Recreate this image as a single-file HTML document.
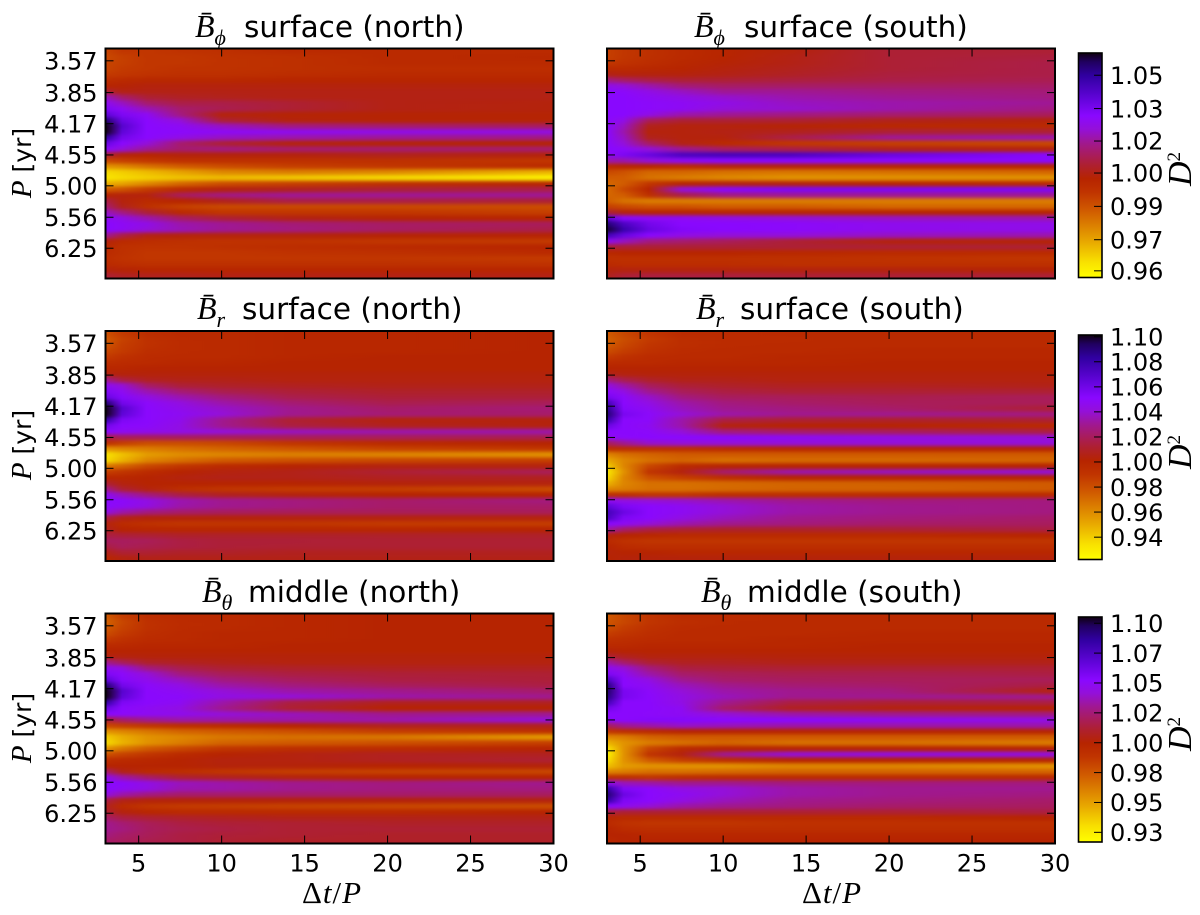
<!DOCTYPE html>
<html>
<head>
<meta charset="utf-8">
<title>D-squared phase dispersion panels</title>
<style>
html,body{margin:0;padding:0;background:#fff;width:1200px;height:915px;overflow:hidden}
svg{display:block}
text{fill:#000;font-family:"DejaVu Sans","Liberation Sans",sans-serif}
.tick{font-size:24px}
.title{font-size:29.5px}
.math{font-family:"Liberation Serif","DejaVu Serif",serif;font-style:italic}
.axis-label{font-size:25px}
.dt-label{font-size:31px;font-family:"Liberation Serif",serif;letter-spacing:1px}
</style>
</head>
<body>
<svg id="figure" width="1200" height="915" viewBox="0 0 1200 915" xmlns="http://www.w3.org/2000/svg">
<defs>
<filter id="vblur" filterUnits="userSpaceOnUse" x="0" y="0" width="1200" height="915" color-interpolation-filters="sRGB"><feGaussianBlur stdDeviation="0 1.8"/></filter>
</defs>

<text class="title" y="37" xml:space="preserve"><tspan class="math" x="195" font-size="32">B&#772;</tspan><tspan class="math" font-size="22" dy="8">ϕ</tspan><tspan x="244" dy="-8">surface (north)</tspan></text>
<text class="title" y="37" xml:space="preserve"><tspan class="math" x="694" font-size="32">B&#772;</tspan><tspan class="math" font-size="22" dy="8">ϕ</tspan><tspan x="744" dy="-8">surface (south)</tspan></text>
<text class="title" y="319" xml:space="preserve"><tspan class="math" x="197" font-size="32">B&#772;</tspan><tspan class="math" font-size="22" dy="8">r</tspan><tspan x="242" dy="-8">surface (north)</tspan></text>
<text class="title" y="319" xml:space="preserve"><tspan class="math" x="696" font-size="32">B&#772;</tspan><tspan class="math" font-size="22" dy="8">r</tspan><tspan x="740" dy="-8">surface (south)</tspan></text>
<text class="title" y="602" xml:space="preserve"><tspan class="math" x="202" font-size="32">B&#772;</tspan><tspan class="math" font-size="22" dy="8">θ</tspan><tspan x="248" dy="-8">middle (north)</tspan></text>
<text class="title" y="602" xml:space="preserve"><tspan class="math" x="701" font-size="32">B&#772;</tspan><tspan class="math" font-size="22" dy="8">θ</tspan><tspan x="747" dy="-8">middle (south)</tspan></text>

<text class="axis-label" text-anchor="middle" transform="translate(31,163) rotate(-90)"><tspan class="math" font-size="29">P</tspan> [yr]</text>
<text class="axis-label" text-anchor="middle" transform="translate(31,445) rotate(-90)"><tspan class="math" font-size="29">P</tspan> [yr]</text>
<text class="axis-label" text-anchor="middle" transform="translate(31,728) rotate(-90)"><tspan class="math" font-size="29">P</tspan> [yr]</text>

<text class="dt-label" text-anchor="middle" x="332" y="903">Δ<tspan class="math">t</tspan>/<tspan class="math">P</tspan></text>
<text class="dt-label" text-anchor="middle" x="832" y="903">Δ<tspan class="math">t</tspan>/<tspan class="math">P</tspan></text>

<text class="axis-label" text-anchor="middle" transform="translate(1191,169) rotate(-90)"><tspan class="math" font-size="34">D</tspan><tspan font-size="19" dy="-11" style="font-family:'Liberation Serif',serif">2</tspan></text>
<text class="axis-label" text-anchor="middle" transform="translate(1191,452) rotate(-90)"><tspan class="math" font-size="34">D</tspan><tspan font-size="19" dy="-11" style="font-family:'Liberation Serif',serif">2</tspan></text>
<text class="axis-label" text-anchor="middle" transform="translate(1191,734) rotate(-90)"><tspan class="math" font-size="34">D</tspan><tspan font-size="19" dy="-11" style="font-family:'Liberation Serif',serif">2</tspan></text>
</svg>

<script>
// Column positions of the sampled lag (Δt/P) and rows of sampled frequency (1/P)
const lagColumns = [3,4,5.5,7.5,10,14,20,30];
const freqRows = [.2862,.2825,.2788,.2751,.2714,.2677,.2641,.2604,.2567,.2530,.2493,.2456,.2419,.2383,.2346,.2309,.2272,.2235,.2198,.2161,.2124,.2088,.2051,.2014,.1977,.1940,.1903,.1866,.1830,.1793,.1756,.1719,.1682,.1645,.1608,.1571,.1535,.1498,.1461,.1424];
const periodTickLabels = ['3.57','3.85','4.17','4.55','5.00','5.56','6.25'];
const lagTicks = [5,10,15,20,25,30];

const bphiNorth = [
[.992,.995,.995,.996,.997,.999,.999,.999],
[.991,.993,.995,.995,.996,.997,.999,1.000],
[.992,.993,.995,.995,.996,.997,.999,.999],
[.992,.994,.995,.996,.996,.997,.998,.998],
[.994,.995,.996,.997,.997,.998,.999,.999],
[.998,.999,1.000,1.000,1.000,1.001,1.001,1.001],
[1.001,1.002,1.003,1.003,1.003,1.003,1.003,1.003],
[1.008,1.004,1.004,1.004,1.004,1.004,1.004,1.004],
[1.022,1.014,1.008,1.006,1.005,1.004,1.004,1.004],
[1.028,1.022,1.014,1.010,1.010,1.008,1.004,1.003],
[1.032,1.028,1.021,1.014,1.011,1.008,1.004,1.003],
[1.038,1.032,1.028,1.016,1.003,1.002,1.002,1.002],
[1.052,1.036,1.030,1.024,1.008,1.003,1.002,1.002],
[1.058,1.040,1.030,1.028,1.022,1.016,1.014,1.012],
[1.058,1.038,1.030,1.029,1.028,1.027,1.026,1.025],
[1.048,1.034,1.030,1.026,1.022,1.020,1.018,1.016],
[1.036,1.030,1.024,1.014,1.008,1.003,1.002,1.002],
[1.030,1.024,1.018,1.014,1.016,1.014,1.014,1.014],
[1.008,1.003,1.001,1.003,1.003,1.003,1.005,1.003],
[.991,.993,.995,.997,.997,.997,.997,.995],
[.977,.979,.983,.987,.990,.993,.995,.999],
[.965,.967,.970,.974,.979,.981,.979,.971],
[.963,.965,.967,.969,.970,.968,.965,.960],
[.972,.974,.979,.985,.990,.993,.997,1.001],
[.987,.989,.994,.999,1.003,1.005,1.008,1.010],
[1.001,1.003,1.003,1.012,1.016,1.018,1.018,1.018],
[1.010,1.003,.999,1.001,1.005,1.010,1.010,1.008],
[1.014,1.005,.997,.993,.991,.991,.991,.990],
[1.022,1.016,1.008,.999,.995,.995,.995,.993],
[1.028,1.026,1.020,1.013,1.008,1.004,1.002,1.001],
[1.030,1.028,1.026,1.020,1.018,1.015,1.013,1.012],
[1.030,1.028,1.024,1.021,1.018,1.016,1.013,1.010],
[1.018,1.010,1.004,1.003,1.003,1.003,1.002,1.002],
[1.003,.999,.998,.997,.996,.996,.995,.994],
[1.000,.997,.996,.996,.997,.998,.999,1.001],
[.999,.997,.995,.995,.995,.996,.997,.999],
[.998,.996,.995,.995,.995,.995,.995,.994],
[.999,.998,.997,.997,.997,.997,.997,.996],
[1.003,1.002,1.001,1.001,1.001,1.001,1.001,1.001],
[1.008,1.006,1.005,1.005,1.004,1.004,1.004,1.004]];

const bphiSouth = [
[.993,.995,.997,.999,1.001,1.003,1.008,1.008],
[.993,.995,.997,.999,1.001,1.004,1.008,1.009],
[.995,.996,.998,1.000,1.002,1.004,1.008,1.010],
[.999,.999,1.000,1.001,1.003,1.005,1.008,1.010],
[1.004,1.003,1.003,1.003,1.004,1.006,1.009,1.010],
[1.016,1.013,1.010,1.008,1.008,1.009,1.010,1.011],
[1.026,1.024,1.020,1.015,1.013,1.013,1.013,1.013],
[1.030,1.029,1.026,1.022,1.018,1.018,1.016,1.015],
[1.030,1.030,1.028,1.026,1.023,1.020,1.018,1.016],
[1.030,1.030,1.029,1.028,1.026,1.022,1.020,1.018],
[1.030,1.030,1.029,1.028,1.024,1.023,1.020,1.016],
[1.030,1.030,1.026,1.020,1.018,1.016,1.014,1.012],
[1.030,1.026,1.012,1.008,1.008,1.008,1.005,1.003],
[1.030,1.022,1.005,1.003,1.003,1.002,1.000,.999],
[1.030,1.020,1.003,1.003,1.004,1.005,1.008,1.008],
[1.030,1.022,1.005,1.003,1.003,1.010,1.018,1.020],
[1.030,1.024,1.013,1.004,.999,.995,.993,.991],
[1.030,1.029,1.024,1.018,1.013,1.010,1.005,1.003],
[1.028,1.032,1.036,1.042,1.043,1.042,1.036,1.030],
[1.020,1.020,1.024,1.028,1.030,1.030,1.030,1.030],
[.999,1.001,1.001,.999,1.003,1.003,1.002,1.001],
[.991,.989,.985,.985,.983,.982,.983,.985],
[.987,.987,.983,.981,.979,.977,.977,.977],
[.985,.987,.995,1.001,1.003,1.003,1.001,.999],
[.984,.991,1.001,1.024,1.030,1.032,1.032,1.032],
[.985,.987,.997,1.010,1.016,1.018,1.018,1.018],
[.987,.983,.981,.981,.981,.981,.981,.981],
[.993,.991,.989,.989,.987,.987,.985,.985],
[1.008,1.003,1.001,1.001,1.001,1.001,1.001,1.001],
[1.038,1.030,1.028,1.028,1.026,1.024,1.022,1.020],
[1.052,1.042,1.034,1.030,1.030,1.029,1.027,1.026],
[1.056,1.046,1.036,1.031,1.030,1.029,1.027,1.026],
[1.044,1.036,1.030,1.026,1.024,1.024,1.022,1.020],
[1.028,1.022,1.016,1.014,1.012,1.008,1.003,1.002],
[1.008,1.008,1.008,1.008,1.008,1.008,1.008,1.008],
[1.000,1.001,1.001,1.001,1.001,1.000,.999,.999],
[.997,.997,.997,.997,.997,.997,.996,.995],
[.999,.998,.998,.998,.998,.997,.997,.997],
[1.003,1.003,1.003,1.003,1.003,1.003,1.003,1.002],
[1.005,1.008,1.009,1.009,1.009,1.008,1.008,1.008]];

const brNorth = [
[.980,.988,.994,.997,.997,.999,.999,1.001],
[.976,.985,.992,.996,.997,.999,.999,1.001],
[.978,.987,.992,.996,.997,.999,.999,1.001],
[.983,.988,.994,.996,.997,.999,.999,1.001],
[.988,.992,.996,.997,.997,.999,1.001,1.001],
[.994,.996,.997,.999,.999,1.001,1.001,1.001],
[.999,.999,1.001,1.001,1.001,1.001,1.001,1.001],
[1.004,1.003,1.003,1.003,1.003,1.003,1.003,1.003],
[1.029,1.015,1.008,1.006,1.006,1.004,1.004,1.004],
[1.047,1.040,1.022,1.013,1.010,1.008,1.006,1.006],
[1.054,1.047,1.034,1.024,1.017,1.013,1.010,1.010],
[1.061,1.052,1.043,1.034,1.026,1.017,1.013,1.013],
[1.090,1.058,1.049,1.042,1.033,1.024,1.017,1.019],
[1.100,1.068,1.050,1.045,1.038,1.029,1.022,1.024],
[1.100,1.065,1.050,1.047,1.040,1.029,1.024,1.022],
[1.080,1.054,1.050,1.045,1.029,1.012,1.004,1.003],
[1.058,1.050,1.049,1.043,1.029,1.015,1.008,1.004],
[1.049,1.047,1.045,1.043,1.040,1.036,1.033,1.033],
[1.015,1.019,1.019,1.020,1.019,1.019,1.019,1.017],
[.994,.987,.981,.981,.983,.990,.997,1.001],
[.958,.962,.965,.969,.973,.978,.985,.990],
[.934,.944,.955,.960,.962,.964,.962,.958],
[.937,.948,.962,.969,.976,.980,.983,.987],
[.967,.973,.983,.990,.997,1.001,1.004,1.004],
[.987,.990,.996,1.001,1.004,1.006,1.012,1.019],
[.999,.999,1.001,1.004,1.006,1.006,1.008,1.008],
[1.012,1.004,1.001,1.001,1.001,1.001,1.003,1.004],
[1.029,1.012,1.004,.994,.990,.988,.987,.981],
[1.047,1.036,1.026,1.015,1.008,1.004,1.001,1.001],
[1.050,1.049,1.043,1.034,1.029,1.026,1.022,1.026],
[1.049,1.047,1.042,1.033,1.029,1.026,1.022,1.022],
[1.043,1.033,1.026,1.022,1.020,1.019,1.019,1.019],
[1.015,1.006,1.003,1.003,1.003,1.004,1.004,1.004],
[1.004,.996,.992,.990,.990,.990,.988,.987],
[1.008,1.001,.999,.999,.999,.999,.999,1.001],
[1.015,1.013,1.012,1.010,1.010,1.010,1.010,1.010],
[1.020,1.020,1.019,1.015,1.013,1.013,1.012,1.012],
[1.015,1.019,1.017,1.015,1.013,1.012,1.012,1.012],
[1.006,1.012,1.012,1.010,1.010,1.008,1.008,1.008],
[.999,1.004,1.006,1.006,1.006,1.006,1.006,1.006]];

const brSouth = [
[.976,.983,.990,.996,.996,.997,.997,.997],
[.974,.981,.988,.994,.996,.996,.997,.997],
[.976,.983,.990,.994,.996,.997,.997,.997],
[.981,.987,.992,.996,.997,.997,.999,.999],
[.988,.992,.996,.997,.997,.999,.999,.999],
[.996,.997,.997,.999,.999,.999,1.001,1.001],
[1.001,1.001,1.001,1.001,1.001,1.001,1.001,1.001],
[1.006,1.004,1.003,1.003,1.003,1.003,1.003,1.003],
[1.026,1.017,1.010,1.006,1.006,1.004,1.004,1.004],
[1.043,1.033,1.020,1.013,1.010,1.008,1.008,1.006],
[1.050,1.043,1.029,1.019,1.015,1.012,1.012,1.012],
[1.056,1.049,1.038,1.026,1.020,1.019,1.017,1.019],
[1.075,1.050,1.043,1.033,1.026,1.022,1.019,1.019],
[1.085,1.052,1.047,1.036,1.029,1.026,1.022,1.012],
[1.090,1.056,1.049,1.040,1.033,1.029,1.029,1.026],
[1.080,1.050,1.049,1.033,1.015,1.012,1.010,1.012],
[1.061,1.050,1.047,1.033,1.004,1.001,1.001,.997],
[1.050,1.050,1.049,1.040,1.026,1.022,1.020,1.015],
[1.047,1.049,1.050,1.050,1.050,1.047,1.043,1.040],
[1.019,1.029,1.038,1.040,1.040,1.040,1.040,1.040],
[.994,.994,.994,.994,.997,.999,1.001,1.001],
[.962,.969,.973,.976,.976,.976,.976,.976],
[.951,.962,.969,.973,.969,.971,.971,.973],
[.941,.962,.983,.997,1.001,1.001,1.001,1.001],
[.932,.958,.990,1.004,1.022,1.033,1.036,1.040],
[.937,.962,.980,.987,.994,1.001,1.001,1.001],
[.948,.962,.969,.969,.971,.973,.974,.976],
[.962,.965,.969,.969,.971,.973,.973,.976],
[.994,.994,.990,.990,.994,.994,.996,.996],
[1.047,1.043,1.040,1.038,1.034,1.029,1.026,1.026],
[1.065,1.054,1.050,1.047,1.040,1.033,1.029,1.026],
[1.075,1.061,1.050,1.047,1.040,1.033,1.029,1.026],
[1.072,1.054,1.050,1.043,1.036,1.029,1.026,1.022],
[1.050,1.047,1.040,1.034,1.029,1.026,1.022,1.020],
[1.033,1.022,1.015,1.012,1.010,1.010,1.012,1.015],
[1.004,1.001,.999,.997,.997,.997,.997,1.001],
[.997,.992,.990,.990,.990,.990,.990,.990],
[1.001,.996,.994,.994,.994,.994,.994,.994],
[1.003,1.001,1.001,.999,.999,.999,.999,.999],
[1.001,1.003,1.003,1.003,1.003,1.003,1.003,1.003]];

const bthetaNorth = [
[.976,.987,.994,.997,.997,.999,1.001,1.001],
[.973,.983,.992,.996,.997,.999,1.001,1.001],
[.976,.985,.992,.996,.997,.999,1.001,1.001],
[.981,.988,.994,.997,.999,.999,1.001,1.001],
[.988,.992,.996,.997,.999,.999,1.001,1.001],
[.996,.997,.999,.999,.999,1.001,1.001,1.001],
[1.001,1.001,1.001,1.001,1.001,1.001,1.001,1.001],
[1.004,1.004,1.003,1.003,1.003,1.003,1.003,1.003],
[1.029,1.019,1.010,1.008,1.006,1.004,1.004,1.004],
[1.047,1.043,1.026,1.017,1.012,1.010,1.008,1.008],
[1.054,1.049,1.040,1.026,1.019,1.015,1.013,1.012],
[1.065,1.052,1.045,1.036,1.026,1.020,1.015,1.013],
[1.090,1.058,1.049,1.043,1.033,1.026,1.020,1.015],
[1.100,1.068,1.050,1.047,1.040,1.033,1.029,1.022],
[1.100,1.065,1.050,1.049,1.043,1.040,1.033,1.029],
[1.082,1.054,1.050,1.047,1.033,1.015,1.008,1.008],
[1.061,1.050,1.047,1.043,1.029,1.012,1.001,1.001],
[1.050,1.049,1.047,1.045,1.040,1.036,1.029,1.029],
[1.012,1.022,1.029,1.033,1.033,1.033,1.033,1.040],
[.983,.987,.990,.994,.997,1.001,1.008,1.008],
[.958,.962,.967,.973,.976,.980,.987,.994],
[.941,.950,.958,.962,.967,.969,.967,.955],
[.937,.948,.958,.965,.973,.976,.980,.987],
[.958,.967,.976,.983,.990,.994,.996,1.001],
[.980,.985,.990,.997,1.001,1.004,1.008,1.008],
[.994,.997,.999,1.001,1.004,1.004,1.008,1.012],
[1.001,1.001,1.001,1.001,1.003,1.003,1.001,1.003],
[1.022,1.006,.997,.994,.990,.987,.985,.983],
[1.047,1.033,1.022,1.012,1.008,1.004,1.001,1.001],
[1.050,1.049,1.043,1.036,1.033,1.029,1.026,1.029],
[1.050,1.047,1.043,1.034,1.033,1.029,1.026,1.026],
[1.043,1.033,1.026,1.022,1.022,1.022,1.022,1.020],
[1.015,1.006,1.003,1.003,1.003,1.003,1.003,1.004],
[1.008,.996,.990,.988,.987,.985,.983,.981],
[1.012,1.004,.999,.997,.997,.997,.997,1.001],
[1.022,1.015,1.012,1.010,1.008,1.006,1.006,1.006],
[1.029,1.024,1.019,1.015,1.013,1.012,1.010,1.010],
[1.029,1.026,1.020,1.017,1.015,1.012,1.012,1.012],
[1.026,1.022,1.019,1.015,1.013,1.012,1.010,1.010],
[1.022,1.020,1.017,1.015,1.012,1.010,1.010,1.010]];

const bthetaSouth = [
[.976,.983,.990,.996,.996,.997,.997,.997],
[.978,.983,.990,.994,.996,.997,.997,.997],
[.981,.987,.992,.996,.997,.997,.997,.997],
[.987,.990,.994,.997,.997,.997,.999,.999],
[.992,.994,.996,.997,.997,.999,.999,.999],
[.997,.997,.999,.999,.999,.999,1.001,1.001],
[1.003,1.001,1.001,1.001,1.001,1.001,1.001,1.001],
[1.012,1.008,1.004,1.004,1.004,1.003,1.003,1.003],
[1.033,1.022,1.012,1.008,1.008,1.006,1.006,1.006],
[1.047,1.040,1.026,1.015,1.013,1.012,1.012,1.012],
[1.054,1.047,1.033,1.022,1.019,1.017,1.017,1.015],
[1.072,1.050,1.043,1.029,1.022,1.020,1.019,1.019],
[1.088,1.050,1.047,1.036,1.029,1.024,1.022,1.015],
[1.092,1.056,1.049,1.040,1.033,1.029,1.026,1.004],
[1.088,1.056,1.050,1.043,1.036,1.029,1.029,1.029],
[1.076,1.050,1.050,1.043,1.029,1.015,1.012,1.015],
[1.058,1.050,1.050,1.047,1.022,1.008,1.004,1.001],
[1.050,1.050,1.049,1.047,1.040,1.033,1.029,1.026],
[1.050,1.050,1.052,1.052,1.050,1.050,1.047,1.043],
[1.019,1.029,1.033,1.038,1.036,1.033,1.033,1.033],
[.990,.994,.997,1.001,1.001,1.001,1.001,1.001],
[.962,.965,.973,.976,.976,.976,.976,.976],
[.948,.958,.965,.969,.973,.969,.969,.965],
[.934,.958,.983,.997,1.001,1.001,1.001,1.001],
[.927,.958,.990,1.004,1.029,1.040,1.043,1.043],
[.934,.958,.976,.987,.994,1.001,1.001,1.001],
[.944,.955,.958,.958,.958,.962,.962,.958],
[.962,.965,.969,.969,.971,.973,.973,.973],
[.994,.994,.990,.994,.996,.996,.996,.997],
[1.047,1.036,1.033,1.029,1.029,1.026,1.026,1.026],
[1.082,1.054,1.050,1.043,1.040,1.033,1.029,1.029],
[1.090,1.061,1.050,1.047,1.040,1.033,1.029,1.026],
[1.082,1.054,1.050,1.043,1.036,1.029,1.026,1.022],
[1.050,1.047,1.040,1.033,1.029,1.026,1.022,1.020],
[1.015,1.012,1.012,1.012,1.012,1.012,1.012,1.015],
[.999,.997,.997,.997,.997,.997,.997,1.001],
[.997,.992,.990,.990,.990,.992,.992,.992],
[1.001,.996,.994,.994,.994,.994,.994,.994],
[1.001,1.001,.999,.999,.999,.999,.999,.999],
[.999,1.001,1.001,1.001,1.001,1.001,1.001,1.001]];

// Colour-bar tick values and their printed labels
const cbarTicksRow1 = [.960,.974,.989,1.004,1.0184,1.033,1.048];
const cbarLabelsRow1 = ['0.96','0.97','0.99','1.00','1.02','1.03','1.05'];
const cbarTicksRow2 = [.9406,.9604,.9801,.9999,1.0196,1.0394,1.0591,1.0789,1.0986];
const cbarLabelsRow2 = ['0.94','0.96','0.98','1.00','1.02','1.04','1.06','1.08','1.10'];
const cbarTicksRow3 = [.9306,.9541,.9776,1.0011,1.0246,1.0481,1.0716,1.0951];
const cbarLabelsRow3 = ['0.93','0.95','0.98','1.00','1.02','1.05','1.07','1.10'];

const SVGNS = 'http://www.w3.org/2000/svg';
const fig = document.getElementById('figure');
const defs = fig.querySelector('defs');
const cmapPos = [0,.07,.16,.3,.38,.44,.50,.55,.6,.66,.72,.8,.9,.96,1];
const cmapCol = ['#ffff00','#f8e000','#e8a800','#d05a00','#c03400','#b62400','#ae2030','#a81c60','#a01890','#9410d8','#8a08ff','#6004d8','#3000a0','#200060','#100010'];
const FREQ_TOP = .288, FREQ_BOTTOM = .1406, LAG_MIN = 3, LAG_MAX = 30;

function hexRgb(h){return [1,3,5].map(i=>parseInt(h.substr(i,2),16));}
function cmap(t){
  t=Math.max(0,Math.min(1,t));
  let i=0; while(i<cmapPos.length-2 && t>cmapPos[i+1]) i++;
  const f=(t-cmapPos[i])/(cmapPos[i+1]-cmapPos[i]);
  const a=hexRgb(cmapCol[i]), b=hexRgb(cmapCol[i+1]);
  return 'rgb('+a.map((v,k)=>Math.round(v+(b[k]-v)*f)).join(',')+')';
}
function make(tag,attrs,parent){
  const e=document.createElementNS(SVGNS,tag);
  for(const k in attrs) e.setAttribute(k,attrs[k]);
  parent.appendChild(e);
  return e;
}

function drawPanel(name,values,box,vmin,vmax,showX,showY){
  const xS=v=>box.x+(v-LAG_MIN)/(LAG_MAX-LAG_MIN)*box.w;
  const yS=f=>box.y+(FREQ_TOP-f)/(FREQ_TOP-FREQ_BOTTOM)*box.h;
  const clip=make('clipPath',{id:'clip-'+name},defs);
  make('rect',{x:box.x,y:box.y,width:box.w,height:box.h},clip);
  const outer=make('g',{'clip-path':'url(#clip-'+name+')'},fig);
  
  
  const inner=make('g',{filter:'url(#vblur)'},outer);
  values.forEach((row,r)=>{
    const grad=make('linearGradient',{id:'g-'+name+'-'+r},defs);
    row.forEach((v,c)=>{
      make('stop',{offset:(xS(lagColumns[c])-box.x)/box.w,'stop-color':cmap((v-vmin)/(vmax-vmin))},grad);
    });
    const half=(freqRows[0]-freqRows[1])/2;
    let y0=yS(freqRows[r]+half), y1=yS(freqRows[r]-half);
    if(r===0) y0-=14;
    if(r===values.length-1) y1+=14;
    const cell=make('rect',{x:box.x,y:y0,width:box.w,height:y1-y0+0.6,fill:'url(#g-'+name+'-'+r+')'},inner);
    
    
  });
  const frame=make('g',{},fig);
  
  
  lagTicks.forEach(t=>{
    const x=xS(t);
    make('line',{x1:x,x2:x,y1:box.y,y2:box.y+8,stroke:'#000','stroke-width':1},frame);
    make('line',{x1:x,x2:x,y1:box.y+box.h,y2:box.y+box.h-8,stroke:'#000','stroke-width':1},frame);
    if(showX){
      const lab=make('text',{class:'tick',x:x,y:box.y+box.h+28,'text-anchor':'middle'},frame);
      
      
      lab.textContent=String(t);
    }
  });
  periodTickLabels.forEach(p=>{
    const y=yS(1/parseFloat(p));
    make('line',{x1:box.x,x2:box.x+8,y1:y,y2:y,stroke:'#000','stroke-width':1},frame);
    make('line',{x1:box.x+box.w,x2:box.x+box.w-8,y1:y,y2:y,stroke:'#000','stroke-width':1},frame);
    if(showY){
      const lab=make('text',{class:'tick',x:box.x-8,y:y+8.7,'text-anchor':'end'},frame);
      
      
      lab.textContent=p;
    }
  });
  make('rect',{x:box.x,y:box.y,width:box.w,height:box.h,fill:'none',stroke:'#000','stroke-width':2},frame);
}

function drawColorbar(name,box,vmin,vmax,ticks,labels){
  const grad=make('linearGradient',{id:'cb-'+name,x1:0,y1:1,x2:0,y2:0},defs);
  cmapPos.forEach((p,i)=>make('stop',{offset:p,'stop-color':cmapCol[i]},grad));
  const g=make('g',{},fig);
  
  
  make('rect',{x:box.x,y:box.y,width:box.w,height:box.h,fill:'url(#cb-'+name+')',stroke:'#000','stroke-width':1.6},g);
  ticks.forEach((v,i)=>{
    const y=box.y+box.h-(v-vmin)/(vmax-vmin)*box.h;
    make('line',{x1:box.x+box.w-8,x2:box.x+box.w,y1:y,y2:y,stroke:'#000','stroke-width':1},g);
    const lab=make('text',{class:'tick',x:box.x+box.w+8,y:y+8.7},g);
    
    
    lab.textContent=labels[i];
  });
}

const W=448,H=230,XL=105.5,XR=607;
const Y1=48.5,Y2=331,Y3=613.5;
drawPanel('bphi-north',bphiNorth,{x:XL,y:Y1,w:W,h:H},.957,1.058,false,true);
drawPanel('bphi-south',bphiSouth,{x:XR,y:Y1,w:W,h:H},.957,1.058,false,false);
drawPanel('br-north',brNorth,{x:XL,y:Y2,w:W,h:H},.923,1.10,false,true);
drawPanel('br-south',brSouth,{x:XR,y:Y2,w:W,h:H},.923,1.10,false,false);
drawPanel('btheta-north',bthetaNorth,{x:XL,y:Y3,w:W,h:H},.923,1.10,true,true);
drawPanel('btheta-south',bthetaSouth,{x:XR,y:Y3,w:W,h:H},.923,1.10,true,false);
drawColorbar('colorbar-row1',{x:1078.5,y:53,w:23.5,h:224.5},.957,1.058,cbarTicksRow1,cbarLabelsRow1);
drawColorbar('colorbar-row2',{x:1078.5,y:335,w:23.5,h:224.5},.923,1.10,cbarTicksRow2,cbarLabelsRow2);
drawColorbar('colorbar-row3',{x:1078.5,y:617,w:23.5,h:225},.923,1.10,cbarTicksRow3,cbarLabelsRow3);
</script>
</body>
</html>
